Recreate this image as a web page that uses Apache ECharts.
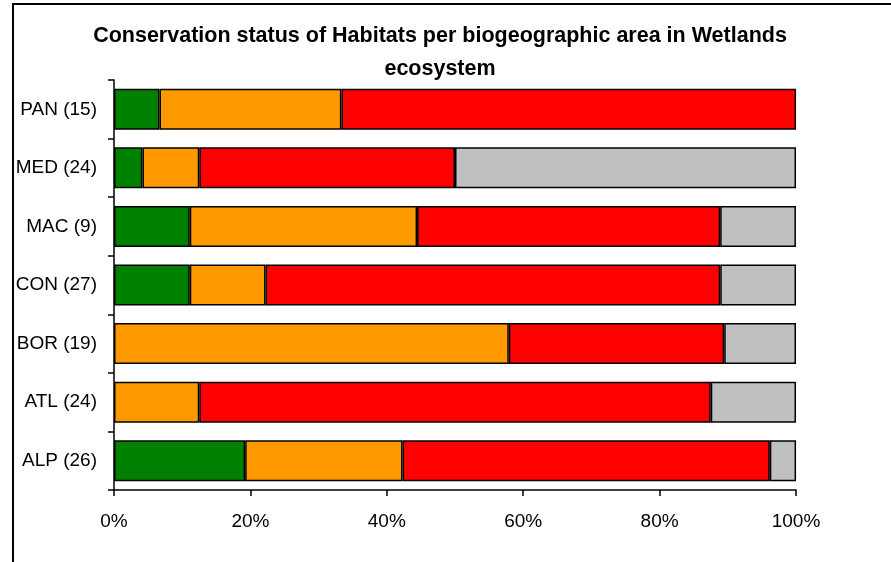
<!DOCTYPE html>
<html>
<head>
<meta charset="utf-8">
<script src="https://cdn.jsdelivr.net/npm/echarts@6/dist/echarts.min.js"></script>
<style>html,body{margin:0;padding:0;background:#fff;}#c{width:891px;height:562px;}</style>
</head>
<body>
<div id="c"></div>
<script>
const categories = ['ALP (26)', 'ATL (24)', 'BOR (19)', 'CON (27)', 'MAC (9)', 'MED (24)', 'PAN (15)'];
const favourable = [19.23, null, null, 11.11, 11.11, 4.17, 6.67];
const inadequate = [23.08, 12.5, 57.89, 11.11, 33.33, 8.33, 26.67];
const bad = [53.85, 75.0, 31.58, 66.67, 44.44, 37.5, 66.67];
const unknown = [3.85, 12.5, 10.53, 11.11, 11.11, 50.0, null];
const xTicks = [0, 20, 40, 60, 80, 100];

const chart = echarts.init(document.getElementById('c'), null, {renderer: 'canvas'});
const font = 'Liberation Sans, Arial, sans-serif';
function mk(name, data, color) {
  return {
    name: name, type: 'bar', stack: 'all', data: data,
    barCategoryGap: '30%',
    itemStyle: {color: color, borderColor: '#000', borderWidth: 1.5},
    emphasis: {disabled: true}
  };
}
chart.setOption({
  animation: false,
  backgroundColor: '#fff',
  title: {
    text: 'Conservation status of Habitats per biogeographic area in Wetlands\necosystem',
    left: 435, top: 15, textAlign: 'center',
    textStyle: {fontFamily: font, fontSize: 21.5, fontWeight: 'bold', color: '#000', lineHeight: 33}
  },
  graphic: [{
    type: 'rect', shape: {x: 13, y: 4, width: 900, height: 600},
    style: {fill: 'none', stroke: '#000', lineWidth: 2}, silent: true
  }],
  grid: {left: 114, right: 95, top: 80, bottom: 72, containLabel: false},
  xAxis: {
    type: 'value', min: xTicks[0], max: xTicks[xTicks.length - 1], interval: 20,
    axisLine: {show: true, lineStyle: {color: '#000', width: 1.5}},
    axisTick: {show: true, length: 6, lineStyle: {color: '#000', width: 1.5}},
    splitLine: {show: false},
    axisLabel: {formatter: '{value}%', fontFamily: font, fontSize: 19, color: '#000', margin: 22}
  },
  yAxis: {
    type: 'category', data: categories,
    axisLine: {show: true, lineStyle: {color: '#000', width: 1.5}},
    axisTick: {show: true, length: 6, lineStyle: {color: '#000', width: 1.5}},
    axisLabel: {fontFamily: font, fontSize: 19, color: '#000', margin: 17}
  },
  series: [
    mk('Favourable', favourable, '#008000'),
    mk('Unfavourable-inadequate', inadequate, '#FF9900'),
    mk('Unfavourable-bad', bad, '#FF0000'),
    mk('Unknown', unknown, '#C0C0C0')
  ]
});
</script>
</body>
</html>
